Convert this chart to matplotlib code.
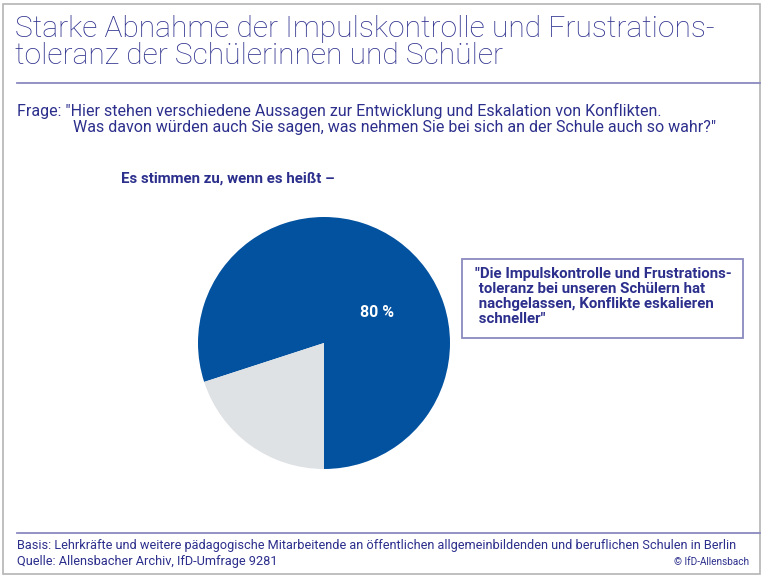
import matplotlib
matplotlib.use("Agg")
import matplotlib.pyplot as plt
from matplotlib.patches import Rectangle
from matplotlib.lines import Line2D

W, H = 767, 578

title_lines = ["Starke Abnahme der Impulskontrolle und Frustrations-",
               "toleranz der Schülerinnen und Schüler"]
question_lines = ['Frage: "Hier stehen verschiedene Aussagen zur Entwicklung und Eskalation von Konflikten.',
                  'Was davon würden auch Sie sagen, was nehmen Sie bei sich an der Schule auch so wahr?"']
lead_in = "Es stimmen zu, wenn es heißt –"
statement = ('"Die Impulskontrolle und Frustrations-\n'
             ' toleranz bei unseren Schülern hat\n'
             ' nachgelassen, Konflikte eskalieren\n'
             ' schneller"')
shares = [80, 20]
share_label = "80 %"
footer_basis = ("Basis: Lehrkräfte und weitere pädagogische Mitarbeitende an öffentlichen "
                "allgemeinbildenden und beruflichen Schulen in Berlin")
footer_source = "Quelle: Allensbacher Archiv, IfD-Umfrage 9281"
copyright_note = "© IfD-Allensbach"

NAVY = "#2c2f8c"
BLUE = "#0352a0"
GREY = "#dfe2e5"
RULE = "#8a8abf"

plt.rcParams["font.family"] = ["Roboto", "DejaVu Sans"]


def fx(x):
    return x / W


def fy(y):
    return 1 - y / H


def pt(px):
    return px * 72 / 100


fig = plt.figure(figsize=(W / 100, H / 100), dpi=100)

# outer frame and rules
fig.add_artist(Rectangle((fx(3), fy(574)), fx(760) - fx(3), fy(4) - fy(574),
                         transform=fig.transFigure, fill=False, ec="#b4b4b4", lw=1.2))
fig.add_artist(Line2D([fx(17), fx(760)], [fy(83), fy(83)], transform=fig.transFigure,
                      color=RULE, lw=1.3))
fig.add_artist(Line2D([fx(17), fx(760)], [fy(533), fy(533)], transform=fig.transFigure,
                      color=RULE, lw=1.3))

# title
fig.text(fx(15), fy(37), title_lines[0], fontsize=pt(30), color=NAVY, fontweight="light",
         va="baseline")
fig.text(fx(15), fy(64), title_lines[1], fontsize=pt(30), color=NAVY, fontweight="light",
         va="baseline")

# question
fig.text(fx(17), fy(116), question_lines[0], fontsize=pt(16), color=NAVY, va="baseline")
fig.text(fx(73), fy(132), question_lines[1], fontsize=pt(16), color=NAVY, va="baseline")

fig.text(fx(121), fy(183), lead_in, fontsize=pt(15), color=NAVY, fontweight="bold",
         va="baseline")

# pie
r = 126
cx, cy = 324, 343
ax = fig.add_axes([fx(cx - r), fy(cy + r), 2 * r / W, 2 * r / H])
ax.pie(shares, colors=[BLUE, GREY], startangle=-90, counterclock=True,
       wedgeprops=dict(linewidth=0))
ax.set_xlim(-1, 1)
ax.set_ylim(-1, 1)
ax.set_aspect("equal")
ax.text(0.42, 0.24, share_label, color="white", fontsize=pt(16), fontweight="bold",
        ha="center", va="center")

# statement box
fig.add_artist(Rectangle((fx(462), fy(338)), fx(743) - fx(462), fy(259) - fy(338),
                         transform=fig.transFigure, fill=False, ec=RULE, lw=1.3))
fig.text(fx(475), fy(267), statement, fontsize=pt(15), color=NAVY, fontweight="bold",
         va="top", linespacing=1.1)

# footer
fig.text(fx(17), fy(549), footer_basis, fontsize=pt(12.8), color=NAVY, va="baseline")
fig.text(fx(17), fy(565), footer_source, fontsize=pt(12.8), color=NAVY, va="baseline")
fig.text(fx(749), fy(565), copyright_note, fontsize=pt(10), color=NAVY, ha="right",
         va="baseline")

fig.savefig("out.png", dpi=100)
